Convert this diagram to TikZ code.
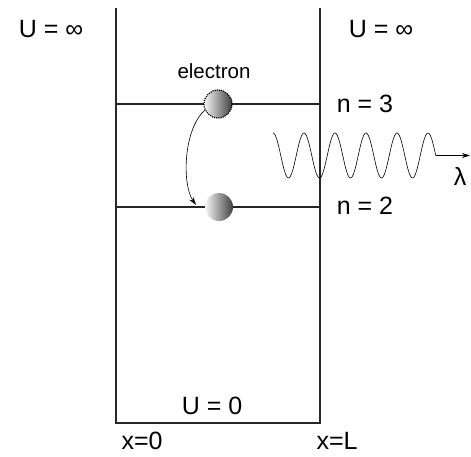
\documentclass[tikz,border=0pt]{standalone}
\usepackage{fontspec}
\setmainfont{Liberation Sans}
\usepackage{tikz}
\usetikzlibrary{arrows.meta, positioning, calc}

\begin{document}
\begin{tikzpicture}[
    x=1pt, y=-1pt,
    >={Stealth[length=8pt, width=5pt]},
    % Styles
    wall/.style={
      line width=1.8pt,
      draw=black!85
    },
    level/.style={
      line width=1.5pt,
      draw=black!85
    },
    electron/.style={
      circle,
      minimum size=28pt,
      inner sep=0pt,
      left color=black!3,
      right color=black!75
    },
    ghost/.style={
      electron,
      draw=black,
      densely dotted,
      line width=1.2pt
    },
    biglabel/.style={
      font=\fontsize{25}{27}\selectfont,
      inner sep=0pt
    },
    smalllabel/.style={
      font=\fontsize{20.5}{22}\selectfont,
      inner sep=0pt
    },
    wave/.style={
      line width=0.6pt,
      draw=black
    },
    jump/.style={
      ->,
      line width=0.6pt,
      draw=black
    }
  ]

    \useasboundingbox (0,0) rectangle (471,457);

    % Well walls and floor
    \coordinate (tl) at (116,8);
    \coordinate (tr) at (320,8);
    \coordinate (bl) at (116,423);
    \coordinate (br) at (320,423);
    \draw [wall] (tl) -- (bl) -- (br) -- (tr);

    % Energy levels
    \draw [level] (116,104) -- (320,104);
    \draw [level] (116,207) -- (320,207);

    % Electrons
    \node (e3) [ghost] at (218,104) {};
    \node (e2) [electron] at (219,207) {};
    \node (elabel) [smalllabel] at (214,71) {electron};

    % Transition arrow
    \coordinate (land) at (196,205);
    \draw [jump] (e3.205) .. controls (183,130) and (182,185) .. (land);

    % Emitted photon
    \coordinate (wstart) at (273,133);
    \coordinate (wend) at (435.75,155.5);
    \coordinate (wtip) at (470,155.5);
    \draw [wave] plot[domain=0:162.75, samples=200, smooth]
      ({\x+273}, {155.5-22.5*cos(11.6129*\x)});
    \draw [wave, ->] (wend) -- (wtip);
    \node (lambda) [biglabel] at (460,176) {λ};

    % Labels
    \node (uleft) [biglabel] at (51,29) {U = ∞};
    \node (uright) [biglabel] at (381,29) {U = ∞};
    \node (n3) [biglabel] at (365,104) {n = 3};
    \node (n2) [biglabel] at (365,206) {n = 2};
    \node (uzero) [biglabel] at (212,406) {U = 0};
    \node (x0) [biglabel] at (142,441) {x=0};
    \node (xl) [biglabel] at (337,441) {x=L};

  \end{tikzpicture}
\end{document}
